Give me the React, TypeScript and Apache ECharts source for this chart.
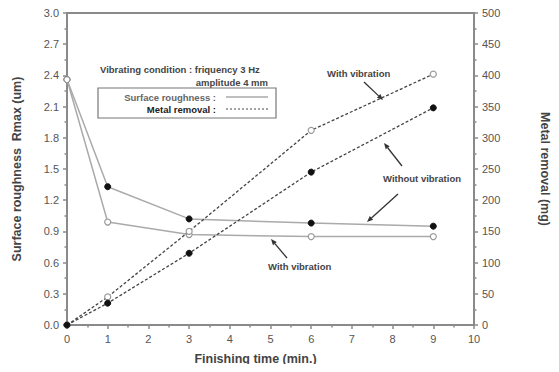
import React, { useEffect, useRef } from "react";
import * as echarts from "echarts";

const timeMin = [0, 1, 3, 6, 9];
const roughWithout = [2.36, 1.33, 1.02, 0.98, 0.95];
const roughWith = [2.36, 0.99, 0.87, 0.85, 0.85];
const metalWith = [0, 45, 150, 312, 402];
const metalWithout = [0, 35, 115, 245, 348];

const FONT = "Liberation Sans, Arial, sans-serif";
const AXC = "#8a8a8a";
const LBL = "#555";

function pairs(ys: number[]) {
  return timeMin.map((x, i) => [x, ys[i]]);
}

function arrow(x1: number, y1: number, x2: number, y2: number) {
  const a = Math.atan2(y2 - y1, x2 - x1);
  const L = 6, W = 2.5;
  const bx = x2 - L * Math.cos(a), by = y2 - L * Math.sin(a);
  const px = -Math.sin(a) * W, py = Math.cos(a) * W;
  return [
    { type: "line", shape: { x1, y1, x2: bx, y2: by }, style: { stroke: "#333", lineWidth: 1.3 } },
    { type: "polygon", shape: { points: [[x2, y2], [bx + px, by + py], [bx - px, by - py]] }, style: { fill: "#333" } },
  ];
}

export default function App() {
  const ref = useRef<HTMLDivElement>(null);
  useEffect(() => {
    const chart = echarts.init(ref.current!, null, { renderer: "svg" });
    const axisCommon = {
      axisLine: { show: true, lineStyle: { color: AXC, width: 2 } },
      axisTick: { show: true, inside: false, length: 4, lineStyle: { color: AXC, width: 1.5 } },
      minorTick: { show: true, splitNumber: 2, length: 2.5, lineStyle: { color: AXC, width: 1.5 } },
      splitLine: { show: false },
      axisLabel: { color: LBL, fontSize: 11, fontFamily: FONT },
      nameTextStyle: { color: "#444", fontSize: 12.5, fontFamily: FONT, fontWeight: "bold" },
    };
    const textStyle = { fill: "#444", fontSize: 9.5, fontFamily: FONT, fontWeight: "bold" };
    chart.setOption({
      animation: false,
      backgroundColor: "#fff",
      grid: { left: 67, right: 66, top: 13, bottom: 47, show: true, borderColor: AXC, borderWidth: 2 },
      xAxis: {
        type: "value", min: 0, max: 10, interval: 1,
        ...axisCommon,
        name: "Finishing time (min.)", nameLocation: "middle", nameGap: 27,
        nameTextStyle: { ...axisCommon.nameTextStyle, padding: [0, 30, 0, 0] },
      },
      yAxis: [
        {
          type: "value", min: 0, max: 3, interval: 0.3,
          ...axisCommon,
          axisLabel: { ...axisCommon.axisLabel, formatter: (v: number) => v.toFixed(1) },
          name: "Surface roughness  Rmax (um)", nameLocation: "middle", nameGap: 44,
        },
        {
          type: "value", min: 0, max: 500, interval: 50, position: "right",
          ...axisCommon,
          name: "Metal removal (mg)", nameLocation: "middle", nameGap: 46, nameRotate: -90,
          nameTextStyle: { ...axisCommon.nameTextStyle, padding: [0, 0, 18, 0] },
        },
      ],
      series: [
        {
          type: "line", yAxisIndex: 0, data: pairs(roughWithout), symbol: "circle", symbolSize: 6,
          lineStyle: { color: "#aaa", width: 1.5 }, itemStyle: { color: "#111", borderColor: "#111" }, z: 3,
        },
        {
          type: "line", yAxisIndex: 0, data: pairs(roughWith), symbol: "circle", symbolSize: 6,
          lineStyle: { color: "#aaa", width: 1.5 }, itemStyle: { color: "#fff", borderColor: "#999", borderWidth: 1.2 }, z: 3,
        },
        {
          type: "line", yAxisIndex: 1, data: pairs(metalWith), symbol: "circle", symbolSize: 6,
          lineStyle: { color: "#444", width: 1.3, type: [3, 2] }, itemStyle: { color: "#fff", borderColor: "#999", borderWidth: 1.2 }, z: 4,
        },
        {
          type: "line", yAxisIndex: 1, data: pairs(metalWithout), symbol: "circle", symbolSize: 6,
          lineStyle: { color: "#444", width: 1.3, type: [3, 2] }, itemStyle: { color: "#111", borderColor: "#111" }, z: 4,
        },
      ],
      graphic: [
        { type: "text", x: 100, y: 64, style: { ...textStyle, text: "Vibrating condition : friquency 3 Hz" } },
        { type: "text", x: 268, y: 77, style: { ...textStyle, text: "amplitude 4 mm", align: "right" } },
        { type: "rect", shape: { x: 98, y: 88, width: 178, height: 30 }, style: { fill: "#fff", stroke: "#777", lineWidth: 1.2 } },
        { type: "text", x: 216, y: 92, style: { ...textStyle, fill: "#666", text: "Surface roughness :", align: "right" } },
        { type: "text", x: 216, y: 104, style: { ...textStyle, fill: "#222", text: "Metal removal :", align: "right" } },
        { type: "line", shape: { x1: 226, y1: 97, x2: 268, y2: 97 }, style: { stroke: "#aaa", lineWidth: 1.5 } },
        { type: "line", shape: { x1: 226, y1: 109, x2: 268, y2: 109 }, style: { stroke: "#444", lineWidth: 1, lineDash: [2, 2] } },
        { type: "text", x: 327, y: 68, style: { ...textStyle, text: "With vibration" } },
        ...arrow(364, 82, 383, 100),
        { type: "text", x: 383, y: 173, style: { ...textStyle, text: "Without vibration" } },
        ...arrow(402, 166, 384, 143),
        ...arrow(398, 194, 367, 222),
        { type: "text", x: 268, y: 261, style: { ...textStyle, text: "With vibration" } },
        ...arrow(287, 258, 271, 239),
      ],
    });
    return () => chart.dispose();
  }, []);
  return <div ref={ref} style={{ width: 559, height: 372, margin: -8 }} />;
}
